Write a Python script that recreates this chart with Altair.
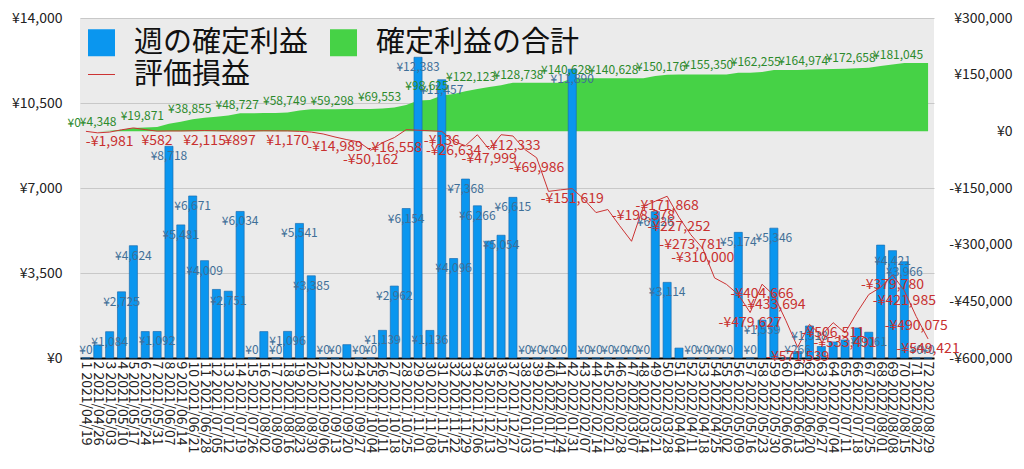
import altair as alt
import pandas as pd

# ---- data ----
dates = [
    "2021/04/19", "2021/04/26", "2021/05/03", "2021/05/10", "2021/05/17", "2021/05/24",
    "2021/05/31", "2021/06/07", "2021/06/14", "2021/06/21", "2021/06/28", "2021/07/05",
    "2021/07/12", "2021/07/19", "2021/07/26", "2021/08/02", "2021/08/09", "2021/08/16",
    "2021/08/23", "2021/08/30", "2021/09/06", "2021/09/13", "2021/09/20", "2021/09/27",
    "2021/10/04", "2021/10/11", "2021/10/18", "2021/10/25", "2021/11/01", "2021/11/08",
    "2021/11/15", "2021/11/22", "2021/11/29", "2021/12/06", "2021/12/13", "2021/12/20",
    "2021/12/27", "2022/01/03", "2022/01/10", "2022/01/17", "2022/01/24", "2022/01/31",
    "2022/02/07", "2022/02/14", "2022/02/21", "2022/02/28", "2022/03/07", "2022/03/14",
    "2022/03/21", "2022/03/28", "2022/04/04", "2022/04/11", "2022/04/18", "2022/04/25",
    "2022/05/02", "2022/05/09", "2022/05/16", "2022/05/23", "2022/05/30", "2022/06/06",
    "2022/06/13", "2022/06/20", "2022/06/27", "2022/07/04", "2022/07/11", "2022/07/18",
    "2022/07/25", "2022/08/01", "2022/08/08", "2022/08/15", "2022/08/22", "2022/08/29",
]

weekly = [
    0, 539, 1084, 2725, 4624, 1089, 1092, 8718, 5481, 6671, 4009, 2823,
    2751, 6034, 0, 1087, 0, 1096, 5541, 3385, 0, 0, 549, 0,
    0, 1139, 2962, 6154, 12383, 1136, 11457, 4096, 7368, 6266, 4810, 5054,
    6615, 0, 0, 0, 0, 11890, 0, 0, 0, 0, 0, 0,
    6026, 3114, 408, 0, 0, 0, 0, 5174, 0, 1559, 5346, 0,
    266, 1318, 475, 660, 740, 1235, 1061, 4648, 4421, 3966, 0, 0,
]

cumulative = [
    0, 539, 1623, 4348, 8972, 10061, 11153, 19871, 25352, 32023, 36032, 38855,
    41606, 47640, 47640, 48727, 48727, 49823, 55364, 58749, 58749, 58749, 59298, 59298,
    59298, 60437, 63399, 69553, 81936, 83072, 94529, 98625, 105993, 112259, 117069, 122123,
    128738, 128738, 128738, 128738, 128738, 140628, 140628, 140628, 140628, 140628, 140628, 140628,
    146654, 149768, 150176, 150176, 150176, 150176, 150176, 155350, 155350, 156909, 162255, 162255,
    162521, 163839, 164314, 164974, 165714, 166949, 168010, 172658, 177079, 181045, 181045, 181045,
]

unrealized = [
    0, -4000, -1981, 4000, 9000, 4500, 582, 1000, 1000, 1500, 2115, 1500,
    1000, 897, 1000, 1500, 1200, 1170, 0, -2000, -7000, -14989, -22000, -28000,
    -50162, -30000, -16558, 4500, 3000, 1500, -136, -26634, -38000, -9000, -47999, -9000,
    -12333, -48000, -69986, -159000, -155000, -151619, -180000, -215000, -207000, -250000, -291000, -198378,
    -185000, -171868, -227252, -273781, -310000, -388000, -405000, -432000, -479627, -404666, -433694, -500000,
    -571539, -511000, -540000, -506511, -533491, -480000, -432000, -413000, -379780, -421985, -490075, -549421,
]

weekly_label_hidden = [2, 6, 12, 16, 23, 35, 51, 60, 63, 64, 65, 66, 68]
cum_label_weeks = [1, 4, 8, 12, 16, 20, 24, 28, 32, 36, 40, 44, 48, 52, 56, 60, 64, 68, 72]
unreal_label_weeks = [3, 7, 11, 14, 18, 22, 25, 27, 31, 32, 35, 37, 39, 42, 48, 50, 51, 52, 53,
                      57, 58, 59, 61, 64, 65, 69, 70, 71, 72]

series_names = ["週の確定利益", "確定利益の合計", "評価損益"]
series_colors = ["#0a96ef", "#46d246", "#cc3333"]

left_ticks = [0, 3500, 7000, 10500, 14000]
right_ticks = [-600000, -450000, -300000, -150000, 0, 150000, 300000]

FONT = "Noto Sans CJK JP"


def yen(v):
    return ("-¥" if v < 0 else "¥") + f"{abs(v):,}"


n = len(dates)
df = pd.DataFrame({
    "idx": list(range(1, n + 1)),
    "week": [f"{i} {d}" for i, d in enumerate(dates, start=1)],
    "weekly": weekly,
    "cum": cumulative,
    "unreal": unrealized,
})
df["wtxt"] = [yen(v) for v in weekly]
df["ctxt"] = [yen(v) for v in cumulative]
df["utxt"] = [yen(v) for v in unrealized]
df["wshow"] = [i not in weekly_label_hidden for i in df["idx"]]
df["cshow"] = [i in cum_label_weeks for i in df["idx"]]
df["ushow"] = [i in unreal_label_weeks for i in df["idx"]]

x_enc = alt.X(
    "week:N", sort=None,
    scale=alt.Scale(paddingInner=0.32, paddingOuter=0.16),
    axis=alt.Axis(title=None, labelAngle=90, labelOverlap=False, labelFontSize=14,
                  labelColor="#222", labelFont=FONT, ticks=False, domainColor="#000",
                  domainWidth=2, labelPadding=3, grid=False, labelLimit=300),
)

left_scale = alt.Scale(domain=[0, 14000], nice=False, zero=False)
right_scale = alt.Scale(domain=[-600000, 300000], nice=False, zero=False)

legend_common = dict(
    title=None, orient="none", labelFontSize=29, labelFont=FONT, labelColor="#111",
    labelLimit=400, symbolSize=729, labelOffset=18, columnPadding=20, padding=0,
)
fill_legend = alt.Legend(legendX=7, legendY=10, columns=2, symbolType="square",
                         symbolStrokeWidth=0, **legend_common)
stroke_legend = alt.Legend(legendX=7, legendY=42, symbolType="stroke",
                           symbolStrokeWidth=1, **legend_common)
fill_scale = alt.Scale(domain=series_names[:2], range=series_colors[:2])
stroke_scale = alt.Scale(domain=series_names[2:], range=series_colors[2:])

base = alt.Chart(df)

area = base.mark_area(opacity=1, interpolate="linear").transform_calculate(
    s=f"'{series_names[1]}'"
).encode(
    x=x_enc,
    y=alt.Y("cum:Q", scale=right_scale,
            axis=alt.Axis(orient="right", values=right_ticks, title=None, grid=False,
                          domain=False, ticks=False, labelAlign="right", labelPadding=78,
                          labelFontSize=14, labelFont=FONT, labelColor="#222",
                          labelExpr="(datum.value < 0 ? '-¥' : '¥') + format(abs(datum.value), ',')")),
    fill=alt.Fill("s:N", scale=fill_scale, legend=fill_legend),
)

bars = base.mark_bar(stroke="#1b6fb2", strokeWidth=0.7).transform_calculate(
    s=f"'{series_names[0]}'"
).encode(
    x=x_enc,
    y=alt.Y("weekly:Q", scale=left_scale,
            axis=alt.Axis(orient="left", values=left_ticks, title=None, grid=True,
                          gridColor="#c8c8c8", domain=False, ticks=False, labelPadding=18,
                          labelFontSize=14, labelFont=FONT, labelColor="#222",
                          labelExpr="'¥' + format(datum.value, ',')")),
    fill=alt.Fill("s:N", scale=fill_scale, legend=fill_legend),
)

line = base.mark_line(strokeWidth=1).transform_calculate(
    s=f"'{series_names[2]}'"
).encode(
    x=x_enc,
    y=alt.Y("unreal:Q", scale=right_scale, axis=None),
    stroke=alt.Stroke("s:N", scale=stroke_scale, legend=stroke_legend),
)

bar_text = base.transform_filter("datum.wshow").transform_calculate(
    ly="max(datum.weekly - 410, 330)"
).mark_text(font=FONT, fontSize=12, color="#3f6f98", baseline="middle", align="center").encode(
    x=x_enc,
    y=alt.Y("ly:Q", scale=left_scale, axis=None),
    text="wtxt:N",
)

cum_text = base.transform_filter("datum.cshow").mark_text(
    font=FONT, fontSize=12, color="#2c8a2c", baseline="middle", align="right", dx=-5, dy=-8
).encode(
    x=x_enc,
    y=alt.Y("cum:Q", scale=right_scale, axis=None),
    text="ctxt:N",
)

unreal_text = base.transform_filter("datum.ushow").mark_text(
    font=FONT, fontSize=14, color="#c8302f", baseline="middle", align="center", dy=10
).encode(
    x=x_enc,
    y=alt.Y("unreal:Q", scale=right_scale, axis=None),
    text="utxt:N",
)

chart = alt.layer(area, bars, line, bar_text, cum_text, unreal_text).resolve_scale(
    y="independent"
).properties(
    width=854, height=340,
    autosize=alt.AutoSizeParams(type="none"),
    padding={"left": 72, "top": 10, "right": 80, "bottom": 100},
    background="white",
).configure_view(fill="#ebebeb", stroke=None)

chart.save("out.html", embed_options={"renderer": "svg", "actions": False})
